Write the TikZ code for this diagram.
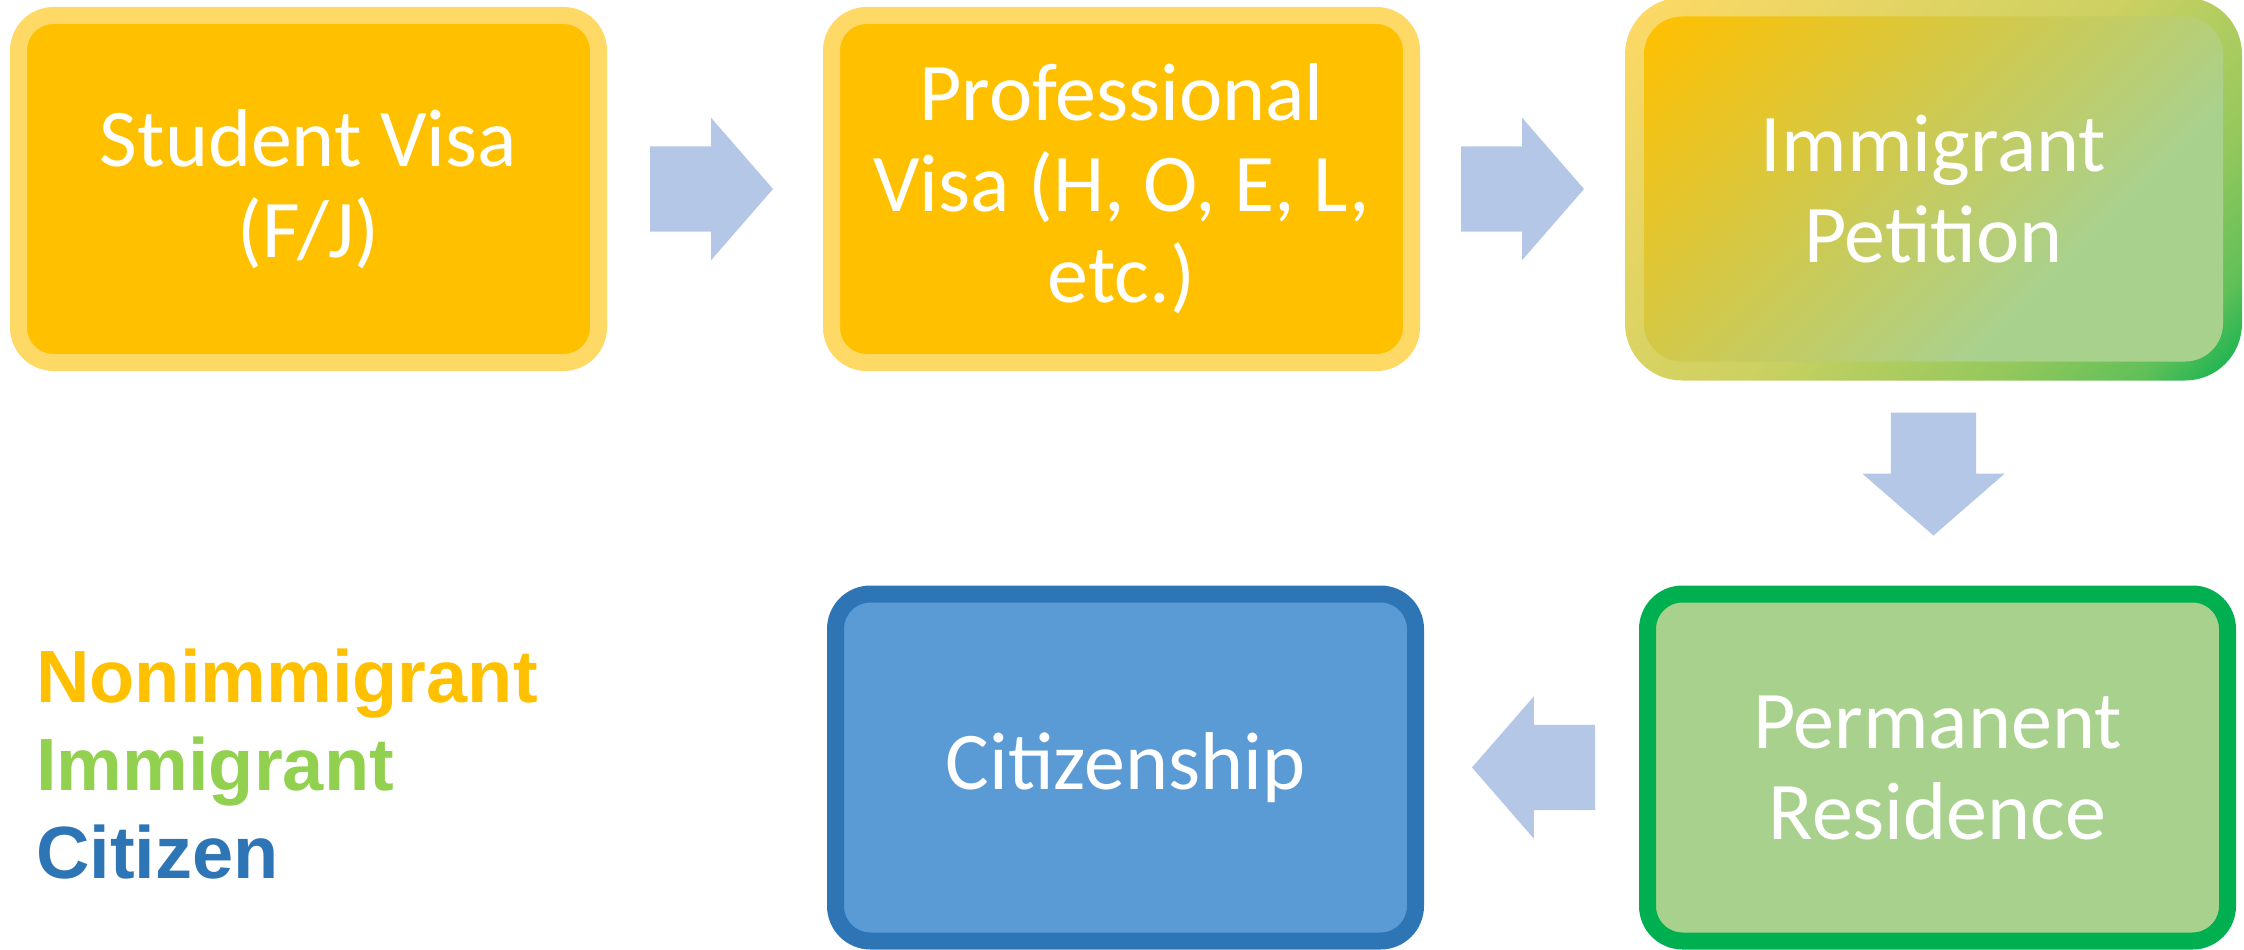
\documentclass[tikz,border=0pt]{standalone}
\usepackage{fontspec}
\usepackage{tikz}
\usetikzlibrary{shapes,arrows,positioning}
\newfontfamily\stagefont{Carlito}
\newfontfamily\keyfont{Liberation Sans}

\definecolor{gold}{HTML}{FFC000}
\definecolor{palegold}{HTML}{FFD966}
\definecolor{leaf}{HTML}{A9D18E}
\definecolor{green}{HTML}{00B050}
\definecolor{lime}{HTML}{92D050}
\definecolor{sky}{HTML}{5B9BD5}
\definecolor{steel}{HTML}{2E75B6}
\definecolor{arrowblue}{HTML}{B4C7E7}
\colorlet{rimA}{palegold!80!green}
\colorlet{rimB}{palegold!58!green}
\colorlet{rimC}{palegold!38!green}

\pgfdeclarehorizontalshading{petnfill}{100bp}{color(0bp)=(gold); color(15bp)=(gold); color(66bp)=(leaf); color(100bp)=(leaf)}
\pgfdeclarehorizontalshading{petnrim}{100bp}{color(0bp)=(palegold); color(15bp)=(palegold); color(50bp)=(rimA); color(68bp)=(rimB); color(78bp)=(rimC); color(86bp)=(green); color(100bp)=(green)}

\begin{document}
\begin{tikzpicture}[x=1pt, y=-1pt,
  stage/.style={rounded corners=35pt, line width=17pt,
    minimum width=580pt, minimum height=347pt,
    text=white, align=center,
    font=\stagefont\fontsize{82}{91}\selectfont},
  rim/.style={shade, shading=petnrim, shading angle=-45,
    rounded corners=57pt, inner sep=0pt, outer sep=0pt,
    minimum width=617pt, minimum height=383pt},
  blockarrow/.style={single arrow, fill=arrowblue, inner sep=42.5pt,
    single arrow head extend=28.5pt, single arrow tip angle=98,
    minimum height=123pt, outer sep=0pt},
  key/.style={anchor=base west, inner sep=0pt,
    font=\keyfont\bfseries\fontsize{74}{85}\selectfont},
]
\useasboundingbox (0,0) rectangle (2244,950);

% top row
\node[stage, fill=gold, draw=palegold] (stud) at (308.5,189) {Student Visa\\(F/J)};
\node[stage, fill=gold, draw=palegold, right=216pt of stud] (prof)
  {Professional\\Visa (H, O, E, L,\\etc.)};
\node[rim, right=205pt of prof] (petn) {};
\node[stage, draw=none, shade, shading=petnfill, shading angle=-45,
  rounded corners=38pt, minimum width=579pt, minimum height=345pt]
  (petnin) at (petn) {Immigrant\\Petition};

% bottom row
\node[stage, fill=leaf, draw=green, below=205pt of petn, xshift=4pt] (perm)
  {Permanent\\Residence};
\node[stage, fill=sky, draw=steel, left=215pt of perm] (citz) {Citizenship};

% arrows
\node[blockarrow, right=43pt of stud] (a1) {};
\node[blockarrow, right=41pt of prof] (a2) {};
\node[blockarrow, shape border rotate=270, below=32pt of petn] (a3) {};
\node[blockarrow, shape border rotate=180, left=44pt of perm] (a4) {};

% key
\node[key, text=gold] (keynon) at (36,702) {Nonimmigrant};
\node[key, text=lime] (keyimm) at (36,790) {Immigrant};
\node[key, text=steel] (keycit) at (36,878) {Citizen};
\end{tikzpicture}
\end{document}
